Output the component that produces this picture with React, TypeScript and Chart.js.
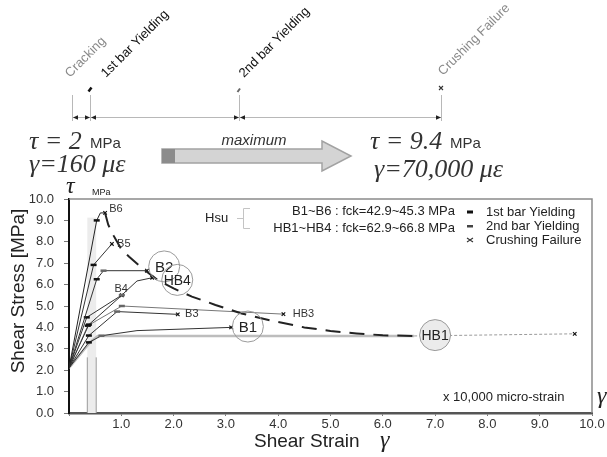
import { useEffect, useRef } from "react";
import { Chart, registerables } from "chart.js";
Chart.register(...registerables);

const SANS = '"Liberation Sans", Arial, sans-serif';
const SERIF = '"Liberation Serif", "Times New Roman", serif';

// axes (shear strain in x10,000 micro-strain, shear stress in MPa)
const X_MIN = 0;
const X_MAX = 10;
const Y_MIN = 0;
const Y_MAX = 10;
const TICK_STEP = 1;

// specimen curves: [strain, stress]; events: 0 none, 1 1st bar yielding, 2 2nd bar yielding, 3 crushing failure
const B6 = [[0, 2.1], [0.53, 9.0], [0.6, 9.35], [0.69, 9.35]];
const B6_EVENTS = [0, 1, 0, 3];
const B5 = [[0, 2.1], [0.47, 6.92], [0.82, 7.9]];
const B5_EVENTS = [0, 1, 3];
const B2 = [[0, 2.1], [0.53, 6.25], [0.66, 6.65], [1.49, 6.65]];
const B2_EVENTS = [0, 1, 2, 3];
const HB4 = [[0, 2.1], [0.34, 4.47], [1.01, 5.51], [1.3, 6.17], [1.59, 6.32]];
const HB4_EVENTS = [0, 1, 2, 0, 3];
const B4 = [[0, 2.1], [0.38, 4.13], [1.01, 5.5]];
const B4_EVENTS = [0, 1, 3];
const HB3 = [[0, 2.1], [0.36, 4.08], [1.01, 5.0], [4.1, 4.62]];
const HB3_EVENTS = [0, 1, 2, 3];
const B3 = [[0, 2.1], [0.38, 3.62], [0.92, 4.74], [2.08, 4.61]];
const B3_EVENTS = [0, 1, 2, 3];
const B1 = [[0, 2.1], [0.38, 3.3], [0.62, 3.61], [1.3, 3.85], [3.1, 4.0]];
const B1_EVENTS = [0, 1, 2, 0, 3];
const HB1 = [[0, 2.1], [0.4, 3.3], [0.55, 3.6], [6.6, 3.6]];
const HB1_TAIL = [[6.6, 3.6], [9.67, 3.7]];
const HB1_TAIL_EVENTS = [0, 3];

// envelope of maxima (dashed)
const ENVELOPE_X = [0.69, 0.75, 0.85, 1.0, 1.15, 1.4, 1.7, 2.0, 2.35, 2.8, 3.3, 3.9, 4.5, 5.0, 5.5, 6.0, 6.6];
const ENVELOPE_Y = [9.35, 8.8, 8.3, 7.65, 7.3, 6.77, 6.2, 5.82, 5.44, 5.05, 4.65, 4.3, 4.0, 3.83, 3.72, 3.63, 3.6];

// cracking band
const BAND_FROM = 0.35;
const BAND_TO = 0.52;
const BAND_TOP = 9.13;
const BAND_LINE_TOP = 2.6;

// small labels next to curves: [text, strain, stress]
const CURVE_LABELS = [["B6", 0.77, 9.53], ["B5", 0.92, 7.9], ["B4", 0.87, 5.79], ["B3", 2.22, 4.63], ["HB3", 4.28, 4.63]];
// circled labels: [text, strain, stress, filled]
const CIRCLE_LABELS = [["B2", 1.82, 6.85, 0], ["HB4", 2.07, 6.22, 0], ["B1", 3.42, 4.04, 0], ["HB1", 7.0, 3.64, 1]];

const LEGEND_ITEMS = ["1st bar Yielding", "2nd bar Yielding", "Crushing Failure"];
const GROUP_LINES = ["B1~B6 : fck=42.9~45.3 MPa", "HB1~HB4 : fck=62.9~66.8 MPa"];

function series(label: string, pts: number[][], events: number[], color: string, width: number) {
  return {
    label,
    data: pts.map(([x, y]) => ({ x, y })),
    borderColor: color,
    borderWidth: width,
    fill: false,
    tension: 0,
    pointStyle: events.map((e) => (e === 3 ? "crossRot" : "line")),
    pointRadius: events.map((e) => (e === 0 ? 0 : e === 3 ? 2.5 : 3)),
    pointBorderColor: events.map((e) => (e === 2 ? "#666" : "#111")),
    pointBorderWidth: events.map((e) => (e === 3 ? 1.2 : 2.5)),
    pointBackgroundColor: "#111",
    pointHoverRadius: 0,
  };
}

function rotText(ctx: CanvasRenderingContext2D, text: string, x: number, y: number, color: string) {
  ctx.save();
  ctx.translate(x, y);
  ctx.rotate(-Math.PI / 4);
  ctx.fillStyle = color;
  ctx.textAlign = "left";
  ctx.textBaseline = "alphabetic";
  ctx.fillText(text, 0, 0);
  ctx.restore();
}

function arrowHead(ctx: CanvasRenderingContext2D, x: number, y: number, dir: number) {
  ctx.beginPath();
  ctx.moveTo(x, y);
  ctx.lineTo(x - dir * 5, y - 2.2);
  ctx.lineTo(x - dir * 5, y + 2.2);
  ctx.closePath();
  ctx.fill();
}

const annotate = {
  id: "annotate",
  beforeDatasetsDraw(chart: any) {
    const { ctx, scales, chartArea } = chart;
    const x = scales.x;
    const y = scales.y;
    ctx.save();
    const bx0 = x.getPixelForValue(BAND_FROM);
    const bx1 = x.getPixelForValue(BAND_TO);
    const by0 = y.getPixelForValue(0);
    const by1 = y.getPixelForValue(BAND_TOP);
    ctx.fillStyle = "#ececec";
    ctx.fillRect(bx0, by1, bx1 - bx0, by0 - by1);
    ctx.strokeStyle = "#9a9a9a";
    ctx.lineWidth = 1;
    const ly = y.getPixelForValue(BAND_LINE_TOP);
    ctx.beginPath();
    ctx.moveTo(bx0, by0);
    ctx.lineTo(bx0, ly);
    ctx.moveTo(bx1, by0);
    ctx.lineTo(bx1, ly);
    ctx.stroke();
    // frame
    ctx.strokeStyle = "#8a8a8a";
    ctx.lineWidth = 1.5;
    ctx.beginPath();
    ctx.moveTo(chartArea.left, chartArea.top);
    ctx.lineTo(chartArea.right, chartArea.top);
    ctx.lineTo(chartArea.right, chartArea.bottom);
    ctx.stroke();
    ctx.restore();
  },
  afterDatasetsDraw(chart: any) {
    const { ctx, scales } = chart;
    const x = scales.x;
    const y = scales.y;
    ctx.save();
    ctx.fillStyle = "#333";
    ctx.font = `11px ${SANS}`;
    ctx.textAlign = "left";
    ctx.textBaseline = "middle";
    for (const [t, sx, sy] of CURVE_LABELS as any) {
      ctx.fillText(t, x.getPixelForValue(sx), y.getPixelForValue(sy));
    }
    for (const [t, sx, sy, filled] of CIRCLE_LABELS as any) {
      const cx = x.getPixelForValue(sx);
      const cy = y.getPixelForValue(sy);
      const r = 15.5;
      ctx.beginPath();
      ctx.arc(cx, cy, r, 0, Math.PI * 2);
      if (filled) {
        ctx.fillStyle = "#ebebeb";
        ctx.fill();
      }
      ctx.strokeStyle = "#9a9a9a";
      ctx.lineWidth = 1;
      ctx.stroke();
      ctx.fillStyle = "#222";
      ctx.textAlign = "center";
      ctx.font = `${t.length > 2 ? 14 : 15}px ${SANS}`;
      ctx.fillText(t, cx, cy + 1);
    }
    ctx.restore();
  },
  afterDraw(chart: any) {
    const { ctx } = chart;
    ctx.save();

    // rotated stage labels
    ctx.font = `13px ${SANS}`;
    rotText(ctx, "Cracking", 70, 78, "#8a8a8a");
    rotText(ctx, "1st bar Yielding", 106, 78, "#111");
    rotText(ctx, "2nd bar Yielding", 244, 78, "#111");
    rotText(ctx, "Crushing Failure", 443, 76, "#8a8a8a");

    // stage markers
    ctx.strokeStyle = "#111";
    ctx.lineWidth = 2.5;
    ctx.beginPath();
    ctx.moveTo(88.5, 91.5);
    ctx.lineTo(91.5, 87.5);
    ctx.stroke();
    ctx.strokeStyle = "#666";
    ctx.lineWidth = 2;
    ctx.beginPath();
    ctx.moveTo(237.5, 92);
    ctx.lineTo(240, 88.5);
    ctx.stroke();
    ctx.strokeStyle = "#333";
    ctx.lineWidth = 1.1;
    ctx.beginPath();
    ctx.moveTo(439, 86);
    ctx.lineTo(443, 90);
    ctx.moveTo(443, 86);
    ctx.lineTo(439, 90);
    ctx.stroke();

    // stage vertical lines and dimension line
    ctx.strokeStyle = "#b8b8b8";
    ctx.lineWidth = 1;
    ctx.beginPath();
    for (const sx of [72.5, 90.5, 239.5, 441.5]) {
      ctx.moveTo(sx, 95);
      ctx.lineTo(sx, 121);
    }
    ctx.moveTo(72.5, 117.5);
    ctx.lineTo(441.5, 117.5);
    ctx.stroke();
    ctx.fillStyle = "#222";
    const segs = [[72.5, 90.5], [90.5, 239.5], [239.5, 441.5]];
    for (const [a, b] of segs) {
      arrowHead(ctx, a + 0.5, 117.5, -1);
      arrowHead(ctx, b - 0.5, 117.5, 1);
    }

    // stress / strain expressions
    ctx.textAlign = "left";
    ctx.textBaseline = "alphabetic";
    ctx.fillStyle = "#333";
    ctx.font = `italic 26px ${SERIF}`;
    ctx.fillText("τ = 2", 29, 149);
    ctx.fillText("γ=160 με", 29, 172);
    ctx.fillText("τ = 9.4", 370, 149);
    ctx.fillText("γ=70,000 με", 374, 177);
    ctx.font = `15px ${SANS}`;
    ctx.fillText("MPa", 90, 148);
    ctx.fillText("MPa", 450, 148);

    // maximum arrow
    ctx.font = `italic 15px ${SANS}`;
    ctx.textAlign = "center";
    ctx.fillStyle = "#333";
    ctx.fillText("maximum", 254, 145);
    ctx.beginPath();
    ctx.moveTo(162, 149);
    ctx.lineTo(322, 149);
    ctx.lineTo(322, 141);
    ctx.lineTo(351, 156);
    ctx.lineTo(322, 171);
    ctx.lineTo(322, 163);
    ctx.lineTo(162, 163);
    ctx.closePath();
    ctx.fillStyle = "#d4d4d4";
    ctx.fill();
    ctx.strokeStyle = "#a2a2a2";
    ctx.lineWidth = 1.5;
    ctx.stroke();
    ctx.fillStyle = "#8c8c8c";
    ctx.fillRect(162, 149, 13, 14);

    // axis unit near y axis
    ctx.textAlign = "left";
    ctx.fillStyle = "#222";
    ctx.font = `italic 24px ${SERIF}`;
    ctx.fillText("τ", 66, 193);
    ctx.font = `9px ${SANS}`;
    ctx.fillText("MPa", 92, 195);

    // group legend
    ctx.font = `13px ${SANS}`;
    ctx.fillStyle = "#222";
    ctx.textBaseline = "middle";
    ctx.fillText("Hsu", 205, 218);
    ctx.strokeStyle = "#c4c4c4";
    ctx.lineWidth = 1;
    ctx.beginPath();
    ctx.moveTo(250, 208.5);
    ctx.lineTo(243.5, 208.5);
    ctx.lineTo(243.5, 228.5);
    ctx.lineTo(250, 228.5);
    ctx.moveTo(237, 218.5);
    ctx.lineTo(243.5, 218.5);
    ctx.stroke();
    ctx.textAlign = "right";
    ctx.fillText(GROUP_LINES[0], 455, 211);
    ctx.fillText(GROUP_LINES[1], 455, 228);

    // symbol legend
    ctx.textAlign = "left";
    const rows = [212, 226, 240];
    LEGEND_ITEMS.forEach((t, i) => {
      ctx.fillStyle = "#222";
      ctx.fillText(t, 486, rows[i]);
      if (i === 0) {
        ctx.fillStyle = "#111";
        ctx.fillRect(467, rows[i] - 1.5, 6, 3);
      } else if (i === 1) {
        ctx.fillStyle = "#444";
        ctx.fillRect(467, rows[i] - 1, 6, 2.5);
      } else {
        ctx.strokeStyle = "#333";
        ctx.lineWidth = 1.1;
        ctx.beginPath();
        ctx.moveTo(467, rows[i] - 2);
        ctx.lineTo(473, rows[i] + 2);
        ctx.moveTo(473, rows[i] - 2);
        ctx.lineTo(467, rows[i] + 2);
        ctx.stroke();
      }
    });

    // unit note
    ctx.fillStyle = "#222";
    ctx.font = `13px ${SANS}`;
    ctx.fillText("x 10,000 micro-strain", 443, 397);
    ctx.textBaseline = "alphabetic";
    ctx.font = `italic 24px ${SERIF}`;
    ctx.fillText("γ", 597, 403);

    // axis titles
    ctx.fillStyle = "#222";
    ctx.font = `19px ${SANS}`;
    ctx.fillText("Shear Strain", 254, 447);
    ctx.font = `italic 24px ${SERIF}`;
    ctx.fillText("γ", 380, 447);
    ctx.save();
    ctx.translate(24, 291);
    ctx.rotate(-Math.PI / 2);
    ctx.textAlign = "center";
    ctx.font = `19px ${SANS}`;
    ctx.fillText("Shear Stress [MPa]", 0, 0);
    ctx.restore();

    ctx.restore();
  },
};

export default function App() {
  const ref = useRef<HTMLCanvasElement | null>(null);
  useEffect(() => {
    document.body.style.margin = "0";
    document.body.style.overflow = "hidden";
    if (!ref.current) return;
    const envelope = ENVELOPE_X.map((v, i) => ({ x: v, y: ENVELOPE_Y[i] }));
    const chart = new Chart(ref.current, {
      type: "line",
      data: {
        datasets: [
          {
            label: "maximum",
            data: envelope,
            borderColor: "#222",
            borderWidth: 2,
            borderDash: [15, 9],
            pointRadius: 0,
            fill: false,
            tension: 0,
          } as any,
          series("B6", B6, B6_EVENTS, "#222", 1),
          series("B5", B5, B5_EVENTS, "#333", 1),
          series("B2", B2, B2_EVENTS, "#333", 1),
          series("HB4", HB4, HB4_EVENTS, "#333", 1),
          series("B4", B4, B4_EVENTS, "#333", 1),
          series("B3", B3, B3_EVENTS, "#333", 1),
          series("B1", B1, B1_EVENTS, "#333", 1),
          series("HB3", HB3, HB3_EVENTS, "#777", 1),
          { ...series("HB1 tail", HB1_TAIL, HB1_TAIL_EVENTS, "#9a9a9a", 1), borderDash: [3, 2] },
          { ...series("HB1", HB1, [0, 0, 0, 0], "#bdbdbd", 2.5) },
        ],
      },
      options: {
        responsive: false,
        animation: false,
        events: [],
        layout: { padding: { top: 199, left: 0, right: 15, bottom: 0 } },
        plugins: { legend: { display: false }, tooltip: { enabled: false } },
        scales: {
          x: {
            type: "linear",
            min: X_MIN,
            max: X_MAX,
            afterFit: (s: any) => {
              s.height = 44;
            },
            ticks: {
              stepSize: TICK_STEP,
              autoSkip: false,
              maxRotation: 0,
              padding: 1,
              color: "#333",
              font: { family: SANS, size: 13 },
              callback: (v: any) => (Number(v) === 0 ? "" : Number(v).toFixed(1)),
            },
            grid: { drawOnChartArea: false, tickLength: 3, color: "#777" },
            border: { color: "#555", width: 2.5 },
          },
          y: {
            type: "linear",
            min: Y_MIN,
            max: Y_MAX,
            afterFit: (s: any) => {
              s.width = 69;
            },
            ticks: {
              stepSize: TICK_STEP,
              padding: 10,
              color: "#333",
              font: { family: SANS, size: 13 },
              callback: (v: any) => Number(v).toFixed(1),
            },
            grid: { drawOnChartArea: false, tickLength: 5, color: "#777" },
            border: { color: "#111", width: 2 },
          },
        },
      },
      plugins: [annotate],
    });
    return () => chart.destroy();
  }, []);
  return (
    <div style={{ width: 607, height: 457 }}>
      <canvas ref={ref} width={607} height={457} style={{ display: "block" }} />
    </div>
  );
}
